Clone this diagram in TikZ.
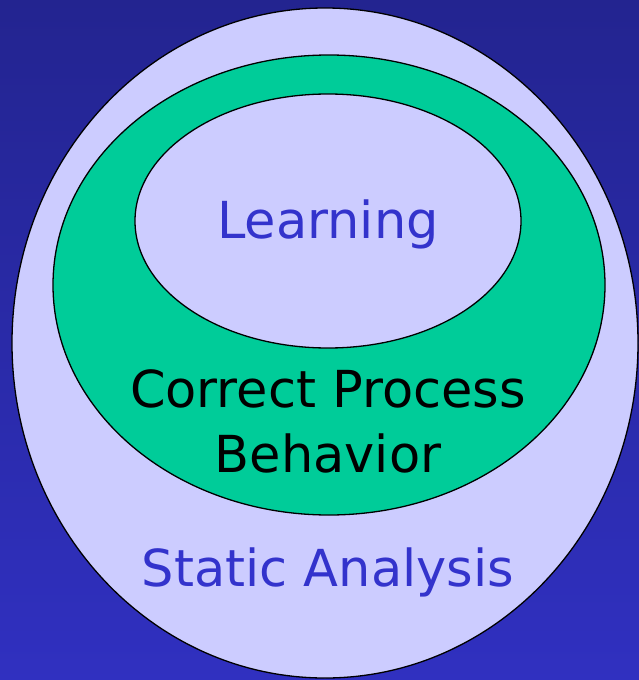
\documentclass[tikz,border=0pt]{standalone}
\usepackage{fontspec}
\setmainfont{DejaVu Sans}
\definecolor{bgtop}{HTML}{232490}
\definecolor{bgbot}{HTML}{3030C0}
\definecolor{lav}{HTML}{CCCCFF}
\definecolor{sea}{HTML}{00CC99}
\definecolor{txtblue}{HTML}{3333CC}
\tikzset{
  ring/.style={draw=black, line width=1.3pt},
  lbl/.style={font=\fontsize{51}{65}\selectfont, align=center, inner sep=0pt}
}
\begin{document}
\begin{tikzpicture}[x=1pt,y=1pt]
\shade[top color=bgtop, bottom color=bgbot] (0,0) rectangle (639,-680);
\useasboundingbox (0,0) rectangle (639,-680);
\path[ring, fill=lav] (325,-343) ellipse [x radius=313, y radius=335];
\path[ring, fill=sea] (329,-285) ellipse [x radius=276, y radius=230];
\path[ring, fill=lav] (328,-221) ellipse [x radius=193, y radius=127];
\node[lbl, text=txtblue] (learn) at (328,-224) {Learning};
\node[lbl, text=black] (corr) at (328,-421) {Correct Process\\Behavior};
\node[lbl, text=txtblue] (stat) at (328,-572) {Static Analysis};
\end{tikzpicture}
\end{document}
